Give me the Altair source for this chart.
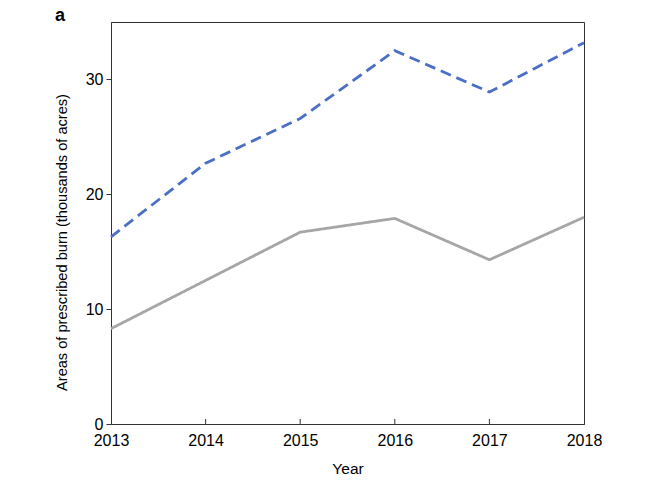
import altair as alt
import pandas as pd

years = [2013, 2014, 2015, 2016, 2017, 2018]
dashed_series = [16.3, 22.7, 26.6, 32.5, 28.9, 33.2]
solid_series = [8.3, 12.5, 16.7, 17.9, 14.3, 18.0]
y_ticks = [0, 10, 20, 30]
inner_ticks = [2014, 2015, 2016, 2017]

df = pd.DataFrame({
    "year": years * 2,
    "value": dashed_series + solid_series,
    "series": ["dashed"] * len(years) + ["solid"] * len(years),
})
tick_df = pd.DataFrame({"year": inner_ticks})

W, H = 473, 402
FONT = "Liberation Sans"

x_scale = alt.Scale(domain=[2013, 2018], nice=False, zero=False)
y_scale = alt.Scale(domain=[0, 35], nice=False)

lines = alt.Chart(df).mark_line(strokeWidth=2.8, clip=False).encode(
    x=alt.X("year:Q", scale=x_scale,
            axis=alt.Axis(title="Year", values=years, format="d", ticks=False,
                          labelPadding=8, titlePadding=13, grid=False,
                          labelFontSize=16, titleFontSize=15.5, labelFlush=False)),
    y=alt.Y("value:Q", scale=y_scale,
            axis=alt.Axis(title="Areas of prescribed burn (thousands of acres)",
                          values=y_ticks, tickSize=5, labelPadding=3, grid=False,
                          titlePadding=16, labelFontSize=16, titleFontSize=14.6,
                          titleY=220)),
    color=alt.Color("series:N", scale=alt.Scale(domain=["dashed", "solid"],
                                                range=["#4a6fc4", "#a6a6a6"]), legend=None),
    strokeDash=alt.StrokeDash("series:N", scale=alt.Scale(domain=["dashed", "solid"],
                                                          range=[[11, 6], [1, 0]]), legend=None),
)

ticks = alt.Chart(tick_df).mark_rule(color="#333", strokeWidth=1).encode(
    x=alt.X("year:Q", scale=x_scale),
    y=alt.value(H),
    y2=alt.value(H - 5),
)

label = alt.Chart(pd.DataFrame({"t": ["a"]})).mark_text(
    font=FONT, fontWeight="bold", fontSize=18, align="left", baseline="alphabetic"
).encode(text="t:N", x=alt.value(-56), y=alt.value(-1))

chart = alt.layer(lines, ticks, label).properties(
    width=W, height=H,
    autosize=alt.AutoSizeParams(type="none"),
    padding={"left": 111, "top": 22, "right": 70, "bottom": 68},
).configure_view(
    stroke="#333", strokeWidth=1
).configure_axis(
    labelFont=FONT, titleFont=FONT, labelColor="black", titleColor="black",
    domainColor="#333", tickColor="#333", titleFontWeight="normal"
)

chart.save("out.html", embed_options={"renderer": "svg", "actions": False})
